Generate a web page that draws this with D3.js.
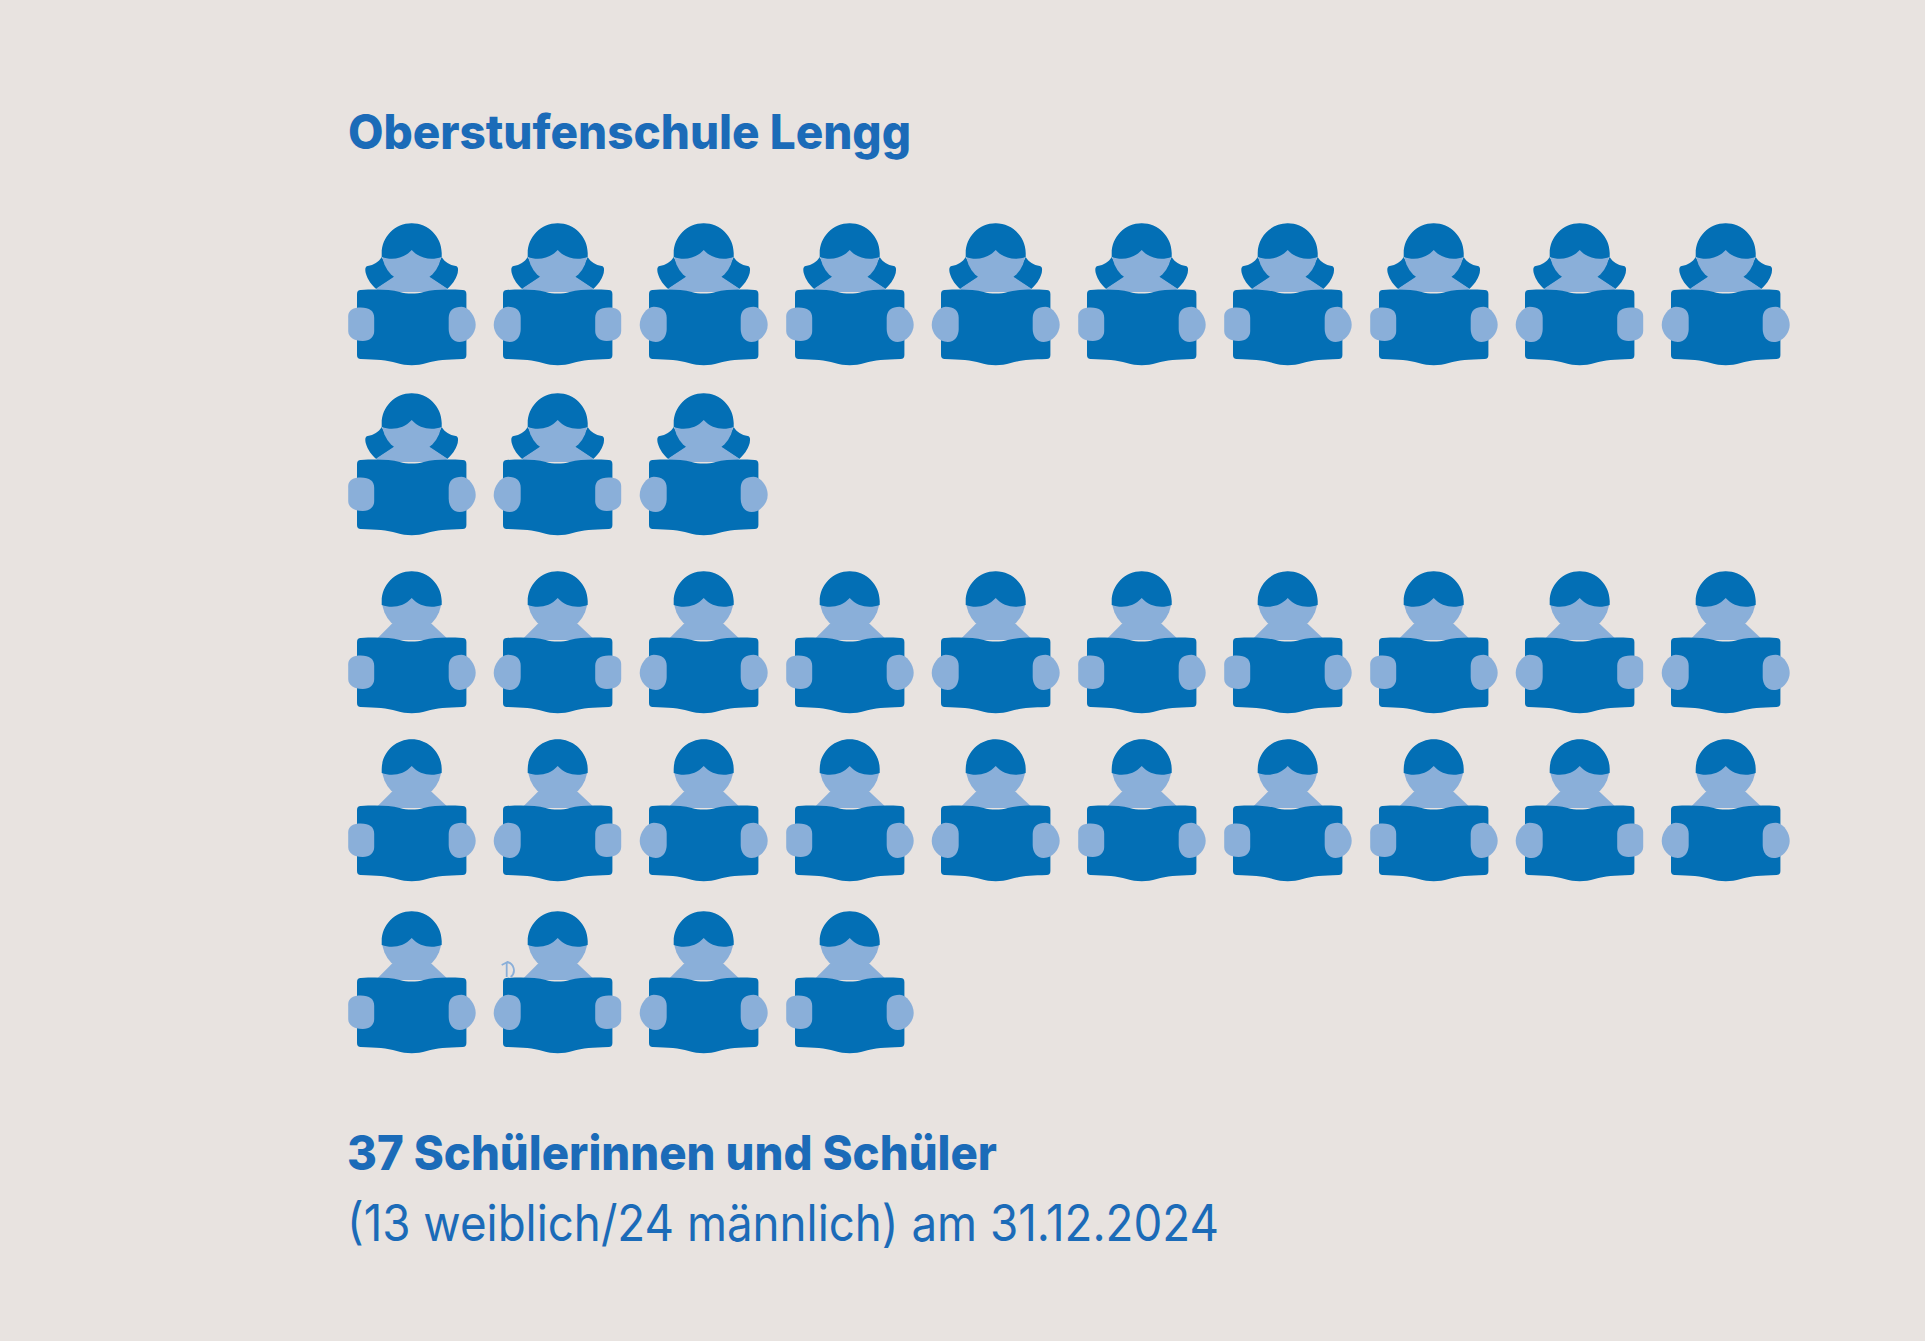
<!DOCTYPE html>
<html>
<head>
<meta charset="utf-8">
<script src="https://cdn.jsdelivr.net/npm/d3@7"></script>
<style>
  body { margin: 0; background: #e8e3e0; }
  svg { display: block; }
  text { font-family: Inter, "Noto Sans", sans-serif; fill: #1b6bb8; }
</style>
</head>
<body>
<svg id="chart"></svg>
<script>
const categories = ['weiblich', 'männlich'];
const counts = [13, 24];
const perRow = 10;
const rowsByCategory = [2, 3];
const title = 'Oberstufenschule Lengg';
const headline = '37 Schülerinnen und Schüler';
const subline = '(13 weiblich/24 männlich) am 31.12.2024';

const width = 1925;
const height = 1341;
const dark = '#036fb5';
const light = '#8aafd9';

const svg = d3.select('#chart').attr('width', width).attr('height', height);
svg.append('rect').attr('width', width).attr('height', height).attr('fill', '#e8e3e0');

const x = d3.scaleLinear().domain([0, perRow - 1]).range([411.7, 1725.7]);
const y = d3.scaleOrdinal().domain(d3.range(d3.sum(rowsByCategory))).range([290, 460, 638, 806, 978]);

// one entry per person, numbered row by row within its category
let rowOffset = 0;
const people = [];
categories.forEach((category, c) => {
  d3.range(counts[c]).forEach((i) => {
    people.push({
      category,
      col: i % perRow,
      row: rowOffset + Math.floor(i / perRow),
    });
  });
  rowOffset += rowsByCategory[c];
});

// icon paths, origin is head centre x / book top y
const hairCap = 'M-30,-33 L-30,-36.7 C-30,-53.3 -16.5,-66.7 0,-66.7 C16.5,-66.7 30,-53.3 30,-36.7 L30,-33 C20,-29.5 8,-31 0,-40 C-8,-31 -20,-29.5 -30,-33Z';
const sideHair = 'M-30,-33 C-33,-28 -38,-25 -44,-24 C-47,-23.5 -46.5,-20 -46,-17 C-44,-10 -40,-5 -35.5,-1 L-17,-13 L-26,-25Z';
const shoulders = {
  weiblich: 'M-17.7,-13.3 L17.7,-13.3 L35,-1.7 L35,2 L-35,2 L-35,-1.7Z',
  männlich: 'M-19.3,-14.7 L19.3,-14.7 L35,0 L35,2 L-35,2 L-34,0Z',
};
const book = 'M-51,0 C-35,-1 -22,-0.5 -12,2 C-5,4 5,4 12,2 C22,-0.5 35,-1 51,0 Q54.7,0 54.7,4 L54.7,65 Q54.7,69 51,69 C35,69.5 25,70 15,73 C5,76 -5,76 -15,73 C-25,70 -35,69.5 -51,69 Q-54.7,69 -54.7,65 L-54.7,4 Q-54.7,0 -51,0Z';
const handFlat = 'M-51,17.5 C-42,17.5 -37.5,21 -37.5,28 L-37.5,41 C-37.5,47 -42,51 -49,51 C-58,51 -63.5,47 -63.5,41 L-63.5,26 C-63.5,20 -58,17.5 -51,17.5Z';
const handRound = 'M-50,16.7 C-57,17 -64,26 -64,35 C-64,43 -57,52 -48,52 C-41,52 -37,46 -37,39 L-37,28 C-37,20 -42,16.7 -50,16.7Z';
// the hands are drawn by hand in the original, some bulge outwards
const leftBulge = [0, 1, 1, 0, 1, 0, 0, 0, 1, 1];
const rightBulge = [1, 0, 1, 1, 1, 1, 1, 1, 0, 1];

const icons = svg.append('g')
  .selectAll('g')
  .data(people)
  .join('g')
  .attr('transform', (d) => `translate(${x(d.col)},${y(d.row)})`);

// long hair goes behind the face
const women = icons.filter((d) => d.category === 'weiblich');
women.append('path').attr('d', sideHair).attr('fill', dark);
women.append('path').attr('d', sideHair).attr('fill', dark).attr('transform', 'scale(-1,1)');

icons.append('circle').attr('cy', -36.7).attr('r', 29.5).attr('fill', light);
icons.append('path').attr('d', (d) => shoulders[d.category]).attr('fill', light);
icons.append('path').attr('d', hairCap).attr('fill', dark);
icons.append('path').attr('d', book).attr('fill', dark);
icons.append('path').attr('d', (d) => (leftBulge[d.col] ? handRound : handFlat)).attr('fill', light);
icons.append('path').attr('d', (d) => (rightBulge[d.col] ? handRound : handFlat)).attr('fill', light).attr('transform', 'scale(-1,1)');

// small stray mark beside one of the icons
icons.filter((d) => d.row === 4 && d.col === 1)
  .append('path')
  .attr('d', 'M-56,-13 L-51,-15.5 L-51,-1 M-51,-16 C-44,-15 -41,-6 -47,-1')
  .attr('fill', 'none')
  .attr('stroke', light)
  .attr('stroke-width', 1.8);

svg.append('text').attr('x', 348).attr('y', 149)
  .attr('font-size', 48).attr('font-weight', 800)
  .attr('textLength', 563).attr('lengthAdjust', 'spacingAndGlyphs')
  .text(title);
svg.append('text').attr('x', 347).attr('y', 1170)
  .attr('font-size', 48).attr('font-weight', 800)
  .attr('textLength', 650).attr('lengthAdjust', 'spacingAndGlyphs')
  .text(headline);
svg.append('text').attr('x', 347).attr('y', 1241)
  .attr('font-size', 50).attr('font-weight', 400)
  .attr('textLength', 872).attr('lengthAdjust', 'spacingAndGlyphs')
  .text(subline);
</script>
</body>
</html>
